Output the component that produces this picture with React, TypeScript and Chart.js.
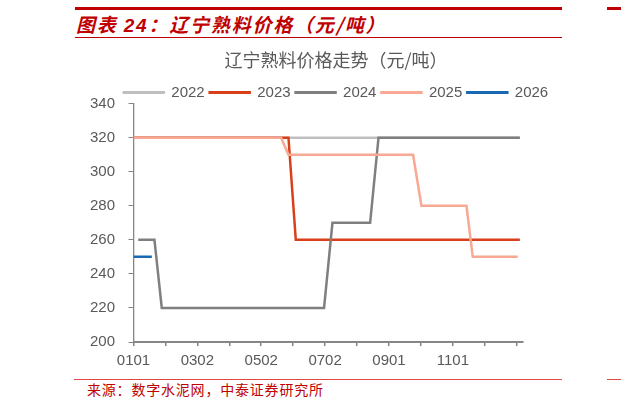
import { useEffect, useRef } from "react"
import { Chart, registerables } from "chart.js"

Chart.register(...registerables)

// Series labels
const years = ["2022", "2023", "2024", "2025", "2026"]

// Day of year (0 = 0101) and price (元/吨) at each turning point
const days2022 = [0, 369]
const price2022 = [320, 320]
const days2023 = [0, 148, 155, 369]
const price2023 = [320, 320, 260, 260]
const days2024 = [4.5, 20, 27, 182, 190, 226, 234, 369]
const price2024 = [260, 260, 220, 220, 270, 270, 320, 320]
const days2025 = [0, 141, 148, 267, 275, 318, 324, 367]
const price2025 = [320, 320, 310, 310, 280, 280, 250, 250]
const days2026 = [0, 17.5]
const price2026 = [250, 250]

// x axis tick marks (day of year) and their labels
const tickDays = [0, 30.5, 61, 91.5, 122, 152.5, 183, 213.5, 244, 274.5, 305, 335.5, 366]
const tickLabels = ["0101", "", "0302", "", "0502", "", "0702", "", "0901", "", "1101", "", ""]

const seriesDays = [days2022, days2023, days2024, days2025, days2026]
const seriesPrice = [price2022, price2023, price2024, price2025, price2026]
const seriesColors = ["#BFBFBF", "#D9401A", "#7F7F7F", "#F8A893", "#1769B3"]

const textGray = "#595959"
const axisGray = "#868686"
const red = "#C00000"
const cjk = '"Noto Sans CJK SC", "Noto Sans", sans-serif'
const latin = '"Liberation Sans", Arial, sans-serif'

export default function App() {
  const chartRef = useRef<HTMLCanvasElement>(null)
  const chartInstance = useRef<Chart | null>(null)

  useEffect(() => {
    if (!chartRef.current) return
    if (chartInstance.current) chartInstance.current.destroy()
    const ctx = chartRef.current.getContext("2d")
    if (!ctx) return

    chartInstance.current = new Chart(ctx, {
      type: "line",
      data: {
        datasets: years.map((year, i) => ({
          label: year,
          data: seriesDays[i].map((d, j) => ({ x: d, y: seriesPrice[i][j] })),
          borderColor: seriesColors[i],
          backgroundColor: seriesColors[i],
          borderWidth: 2.5,
          pointRadius: 0,
          fill: false,
          tension: 0,
          // later years drawn on top
          order: years.length - i,
        })),
      },
      options: {
        animation: false,
        responsive: true,
        maintainAspectRatio: false,
        layout: { padding: 0 },
        plugins: {
          title: {
            display: true,
            text: "辽宁熟料价格走势（元/吨）",
            color: textGray,
            font: { family: cjk, size: 18, weight: "normal" },
            padding: { top: 7, bottom: 9.5 },
          },
          legend: {
            position: "top",
            maxHeight: 23.5,
            labels: {
              boxWidth: 40,
              boxHeight: 0.5,
              padding: 5,
              color: textGray,
              font: { family: latin, size: 15 },
              sort: (a, b) => (a.datasetIndex ?? 0) - (b.datasetIndex ?? 0),
            },
          },
          tooltip: { enabled: false },
        },
        scales: {
          x: {
            type: "linear",
            min: 0,
            max: 372,
            afterBuildTicks: (axis) => {
              axis.ticks = tickDays.map((v) => ({ value: v }))
            },
            afterFit: (axis) => {
              axis.height = 30
            },
            ticks: {
              autoSkip: false,
              maxRotation: 0,
              padding: 6,
              color: textGray,
              font: { family: latin, size: 15 },
              callback: (_value, index) => tickLabels[index],
            },
            grid: { drawOnChartArea: false, tickLength: 4, color: axisGray, lineWidth: 1.5 },
            border: { color: axisGray, width: 2 },
          },
          y: {
            min: 200,
            max: 340,
            afterFit: (axis) => {
              axis.width = 58.5
            },
            ticks: {
              stepSize: 20,
              padding: 13.5,
              color: textGray,
              font: { family: latin, size: 15 },
            },
            grid: { drawOnChartArea: false, tickLength: 5, color: axisGray, lineWidth: 1 },
            border: { color: axisGray, width: 1.3 },
          },
          // empty right-hand space so title and legend stay centred on the frame
          yRight: {
            type: "linear",
            position: "right",
            afterFit: (axis) => {
              axis.width = 74
            },
            ticks: { display: false },
            grid: { display: false },
            border: { display: false },
          },
        },
      },
    })

    return () => {
      if (chartInstance.current) {
        chartInstance.current.destroy()
        chartInstance.current = null
      }
    }
  }, [])

  return (
    <div style={{ position: "absolute", left: 0, top: 0, width: 621, height: 407, background: "#fff", overflow: "hidden" }}>
      <div style={{ position: "absolute", left: 75, top: 7, width: 487, height: 2.5, background: red }} />
      <div style={{ position: "absolute", left: 607, top: 7, width: 14, height: 2.5, background: red }} />
      <div
        style={{
          position: "absolute",
          left: 76,
          top: 13,
          lineHeight: "22px",
          fontSize: 19,
          fontWeight: "bold",
          fontStyle: "italic",
          fontFamily: cjk,
          color: red,
          letterSpacing: 1.8,
          whiteSpace: "nowrap",
        }}
      >
        图表 <span style={{ fontFamily: latin }}>24</span>：辽宁熟料价格（元/吨）
      </div>
      <div style={{ position: "absolute", left: 75, top: 37, width: 487, height: 1.2, background: red }} />
      <div style={{ position: "absolute", left: 75, top: 42, width: 522, height: 330 }}>
        <canvas ref={chartRef} />
      </div>
      <div style={{ position: "absolute", left: 74, top: 378.5, width: 488, height: 1.5, background: "#E04848" }} />
      <div style={{ position: "absolute", left: 607, top: 378.5, width: 14, height: 1.5, background: "#E04848" }} />
      <div
        style={{
          position: "absolute",
          left: 87,
          top: 381,
          lineHeight: "17px",
          fontSize: 14,
          fontFamily: cjk,
          color: red,
          letterSpacing: 0.8,
          whiteSpace: "nowrap",
        }}
      >
        来源：数字水泥网，中泰证券研究所
      </div>
    </div>
  )
}
